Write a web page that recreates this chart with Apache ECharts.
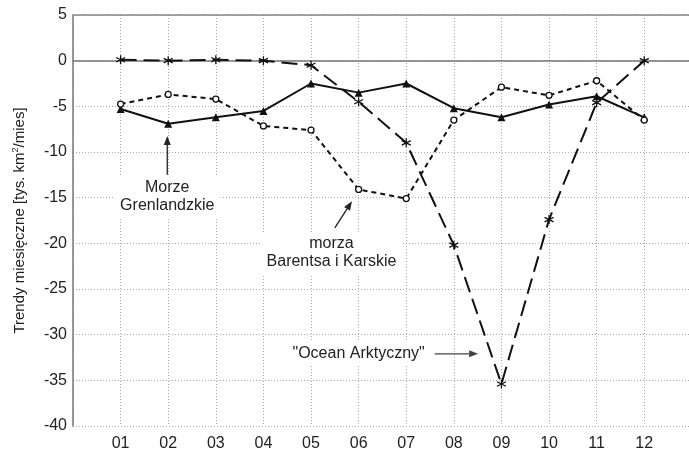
<!DOCTYPE html>
<html>
<head>
<meta charset="utf-8">
<script src="https://cdn.jsdelivr.net/npm/echarts@6/dist/echarts.min.js"></script>
<style>
html,body{margin:0;padding:0;background:#fff;}
#c{width:689px;height:452px;}
</style>
</head>
<body>
<div id="c"></div>
<script>
const months = ['01','02','03','04','05','06','07','08','09','10','11','12'];
const oceanArktyczny = [0.1, 0, 0.1, 0, -0.5, -4.5, -9.0, -20.2, -35.4, -17.4, -4.6, 0];
const morzeGrenlandzkie = [-5.3, -6.9, -6.2, -5.5, -2.5, -3.5, -2.5, -5.2, -6.2, -4.8, -3.9, -6.2];
const barentsaKarskie = [-4.75, -3.7, -4.2, -7.15, -7.6, -14.1, -15.1, -6.5, -2.9, -3.8, -2.2, -6.5];

const FONT = '"Liberation Sans", Arial, sans-serif';
const toXY = arr => arr.map((v, i) => [i + 1, v]);
const asterisk = 'path://M0,-10L0,10M-8.66,-5L8.66,5M-8.66,5L8.66,-5';
const XMAX = 12.94;

const chart = echarts.init(document.getElementById('c'));
chart.setOption({
  animation: false,
  backgroundColor: '#fff',
  grid: {left: 73, top: 15, bottom: 25, right: 0, show: false},
  xAxis: [{
    type: 'value', min: 0, max: XMAX, interval: 1,
    axisLine: {show: true, lineStyle: {color: '#777', width: 1.5}},
    axisTick: {show: false},
    axisLabel: {
      margin: 10, color: '#222', fontSize: 16, fontFamily: FONT,
      showMaxLabel: false,
      formatter: v => (Number.isInteger(v) && months[v - 1]) || ''
    },
    splitLine: {show: true, lineStyle: {color: '#aaa', type: [1, 2], width: 1}}
  }, {
    type: 'value', position: 'top', min: 0, max: XMAX,
    axisLine: {show: true, onZero: false, lineStyle: {color: '#888', width: 1.5}},
    axisTick: {show: false}, axisLabel: {show: false}, splitLine: {show: false}
  }],
  yAxis: {
    type: 'value', min: -40, max: 5, interval: 5,
    axisLine: {show: true, lineStyle: {color: '#777', width: 1.5}},
    axisTick: {show: false},
    axisLabel: {margin: 6, color: '#222', fontSize: 16, fontFamily: FONT},
    splitLine: {show: true, lineStyle: {color: '#aaa', type: [1, 2], width: 1}},
    name: '{a|Trendy miesięczne [tys. km}{s|2}{a|/mies]}',
    nameLocation: 'middle', nameGap: 45, nameRotate: 90,
    nameTextStyle: {
      rich: {
        a: {fontSize: 15, fontFamily: FONT, color: '#222'},
        s: {fontSize: 9, fontFamily: FONT, color: '#222', verticalAlign: 'top', padding: [0, 0, 8, 0]}
      }
    }
  },
  series: [
    {
      type: 'line', name: 'Ocean Arktyczny', data: toXY(oceanArktyczny), z: 3,
      symbol: asterisk, symbolSize: 9,
      lineStyle: {color: '#111', width: 2, type: [16, 7]},
      itemStyle: {color: 'transparent', borderColor: '#111', borderWidth: 1.3}
    },
    {
      type: 'line', name: 'Morze Grenlandzkie', data: toXY(morzeGrenlandzkie), z: 4,
      symbol: 'triangle', symbolSize: 8,
      lineStyle: {color: '#111', width: 2},
      itemStyle: {color: '#111'}
    },
    {
      type: 'line', name: 'morza Barentsa i Karskie', data: toXY(barentsaKarskie), z: 5,
      symbol: 'circle', symbolSize: 6,
      lineStyle: {color: '#111', width: 2, type: [5, 4]},
      itemStyle: {color: '#fff', borderColor: '#111', borderWidth: 1.3}
    }
  ]
});

function px(x, y) { return chart.convertToPixel({gridIndex: 0}, [x, y]); }
function text(str, x, y) {
  const p = px(x, y);
  return {
    type: 'text', z: 1, x: p[0], y: p[1],
    style: {
      text: str, align: 'center', verticalAlign: 'middle',
      font: '16px ' + FONT, fill: '#222', lineHeight: 18,
      backgroundColor: '#fff', padding: [3, 6]
    }
  };
}
function arrow(x1, y1, x2, y2, color) {
  const a = px(x1, y1), b = px(x2, y2);
  const ang = Math.atan2(b[1] - a[1], b[0] - a[0]);
  const L = 9, W = 3.5;
  const bx = b[0] - L * Math.cos(ang), by = b[1] - L * Math.sin(ang);
  const nx = -Math.sin(ang) * W, ny = Math.cos(ang) * W;
  return [
    {type: 'line', z: 6, shape: {x1: a[0], y1: a[1], x2: bx, y2: by}, style: {stroke: color, lineWidth: 1.3}},
    {type: 'polygon', z: 6, shape: {points: [[b[0], b[1]], [bx + nx, by + ny], [bx - nx, by - ny]]}, style: {fill: color}}
  ];
}

chart.setOption({
  graphic: [
    text('Morze\nGrenlandzkie', 1.98, -14.85),
    text('morza\nBarentsa i Karskie', 5.43, -21.05),
    text('"Ocean Arktyczny"', 6.0, -32.1),
    ...arrow(1.98, -12.5, 1.98, -8.25, '#222'),
    ...arrow(5.5, -18.3, 5.86, -15.4, '#222'),
    ...arrow(7.6, -32.1, 8.51, -32.1, '#444')
  ]
});
</script>
</body>
</html>
